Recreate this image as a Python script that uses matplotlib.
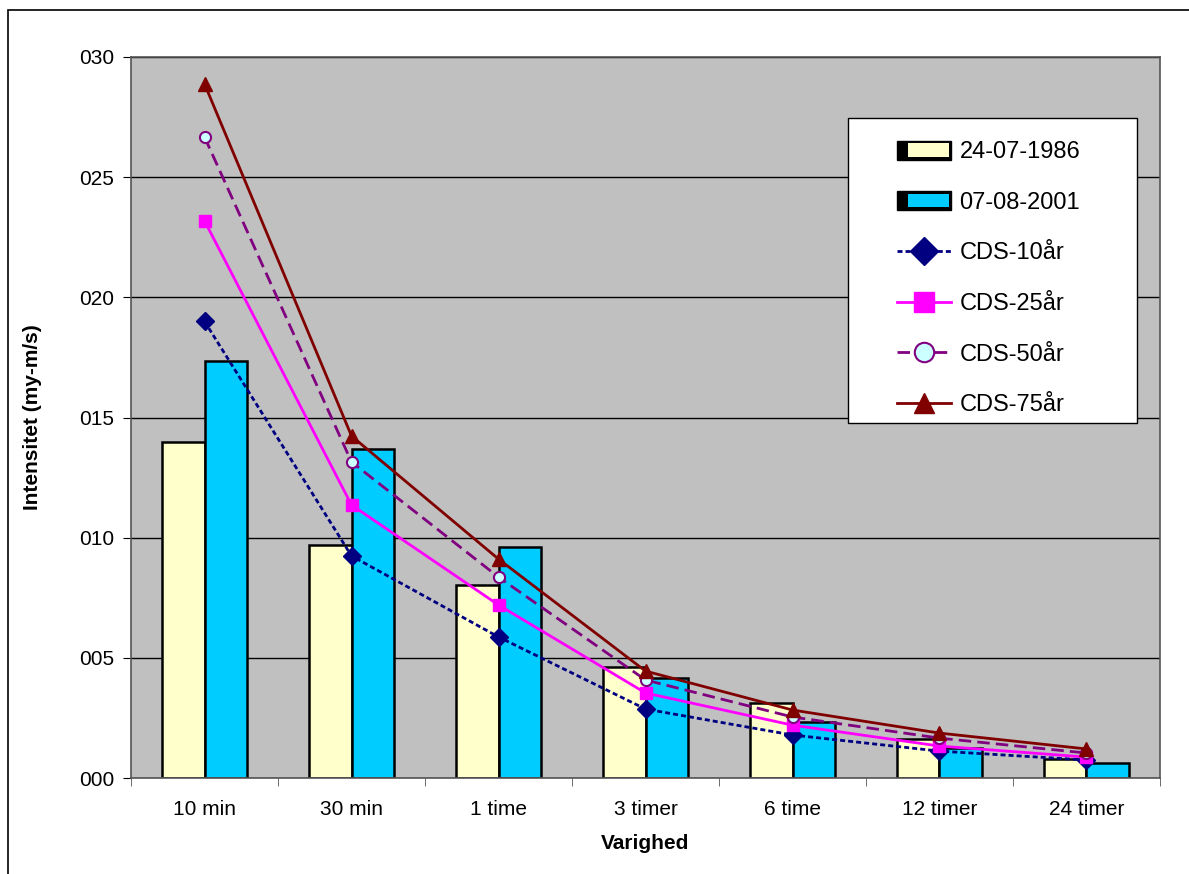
import numpy as np
import matplotlib
matplotlib.use("Agg")
import matplotlib.pyplot as plt
from matplotlib.patches import Rectangle

plt.rcParams['font.family'] = ['Liberation Sans', 'DejaVu Sans']

categories = ["10 min", "30 min", "1 time", "3 timer", "6 time", "12 timer", "24 timer"]
bar_1986 = [14.0, 9.7, 8.03, 4.62, 3.12, 1.62, 0.79]
bar_2001 = [17.35, 13.7, 9.6, 4.16, 2.33, 1.25, 0.62]
cds_10 = [19.0, 9.24, 5.87, 2.87, 1.79, 1.12, 0.75]
cds_25 = [23.18, 11.36, 7.2, 3.54, 2.2, 1.33, 0.87]
cds_50 = [26.67, 13.15, 8.36, 4.08, 2.54, 1.66, 1.04]
cds_75 = [28.88, 14.23, 9.11, 4.45, 2.83, 1.87, 1.21]
y_ticks = [0, 5, 10, 15, 20, 25, 30]
y_labels = ["000", "005", "010", "015", "020", "025", "030"]


class BarHandle:
    # excel-style legend key: black block on the left, coloured box
    def legend_artist(self, legend, orig_handle, fontsize, handlebox):
        x0, y0 = handlebox.xdescent, handlebox.ydescent
        w, h = handlebox.width, handlebox.height
        hh = h * 1.15
        yb = y0 + (h - hh) / 2
        back = Rectangle((x0, yb), w, hh, facecolor='black', edgecolor='black',
                         transform=handlebox.get_transform())
        front = Rectangle((x0 + 0.2 * w, yb + 2), w * 0.8 - 2, hh - 4,
                          facecolor=orig_handle.get_facecolor(), edgecolor='none',
                          transform=handlebox.get_transform())
        handlebox.add_artist(back)
        handlebox.add_artist(front)
        return back


fig = plt.figure(figsize=(11.89, 8.74), dpi=100)
fig.patches.append(Rectangle((0.007, -0.01), 1.5, 0.998, transform=fig.transFigure,
                             fill=False, edgecolor='black', linewidth=1.2))
ax = fig.add_axes([0.1102, 0.1098, 0.8654, 0.825])
ax.set_facecolor('#C0C0C0')

x = np.arange(len(categories))
w = 0.29
b1 = ax.bar(x - w / 2, bar_1986, w, color='#FFFFCC', edgecolor='black', linewidth=1.8,
            label='24-07-1986', zorder=2)
b2 = ax.bar(x + w / 2, bar_2001, w, color='#00CCFF', edgecolor='black', linewidth=1.8,
            label='07-08-2001', zorder=2)

l1, = ax.plot(x, cds_10, color='#000080', linestyle=(0, (1.8, 1.1)), linewidth=2,
              marker='D', markersize=9, label='CDS-10år', zorder=3)
l2, = ax.plot(x, cds_25, color='#FF00FF', linestyle='-', linewidth=2, marker='s',
              markersize=9, label='CDS-25år', zorder=3)
l3, = ax.plot(x, cds_50, color='#800080', linestyle=(0, (4.5, 2.2)), linewidth=2,
              marker='o', markersize=8, markerfacecolor='#CCFFFF',
              markeredgecolor='#800080', markeredgewidth=1.5, label='CDS-50år', zorder=3)
l4, = ax.plot(x, cds_75, color='#800000', linestyle='-', linewidth=2, marker='^',
              markersize=10, label='CDS-75år', zorder=3)

ax.set_xlim(-0.5, len(categories) - 0.5)
ax.set_ylim(0, 30)
ax.set_yticks(y_ticks)
ax.set_yticklabels(y_labels, fontsize=15)
ax.yaxis.grid(True, color='black', linewidth=1)
ax.set_axisbelow(True)

ax.set_xticks(x)
ax.set_xticklabels(categories, fontsize=15)
ax.tick_params(axis='x', length=0, pad=16)
ax.set_xticks(np.arange(len(categories) + 1) - 0.5, minor=True)
ax.tick_params(axis='x', which='minor', length=6, color='#555555')
ax.tick_params(axis='y', length=6, color='black', pad=6)

for s in ax.spines.values():
    s.set_color('#555555')
    s.set_linewidth(1.2)

ax.set_xlabel('Varighed', fontsize=15, fontweight='bold')
ax.xaxis.set_label_coords(0.5, -0.078)
ax.set_ylabel('Intensitet (my-m/s)', fontsize=15, fontweight='bold')
ax.yaxis.set_label_coords(-0.0865, 0.5)

# legend frame drawn as a box, keys placed inside it
ax.add_patch(Rectangle((0.6968, 0.4924), 0.2809, 0.4230, transform=ax.transAxes,
                       facecolor='white', edgecolor='black', linewidth=1, zorder=4))
p1, p2 = b1.patches[0], b2.patches[0]
leg = ax.legend([p1, p2, l1, l2, l3, l4],
                ['24-07-1986', '07-08-2001', 'CDS-10år', 'CDS-25år', 'CDS-50år', 'CDS-75år'],
                handler_map={p1: BarHandle(), p2: BarHandle()},
                loc='upper left', bbox_to_anchor=(0.7444, 0.883), fontsize=17,
                frameon=False, labelspacing=1.21, borderpad=0, borderaxespad=0,
                handlelength=2.3, handletextpad=0.35)
leg.set_zorder(5)
for ln in leg.get_lines():
    ln.set_markersize(14)

fig.savefig('out.png', dpi=100)
